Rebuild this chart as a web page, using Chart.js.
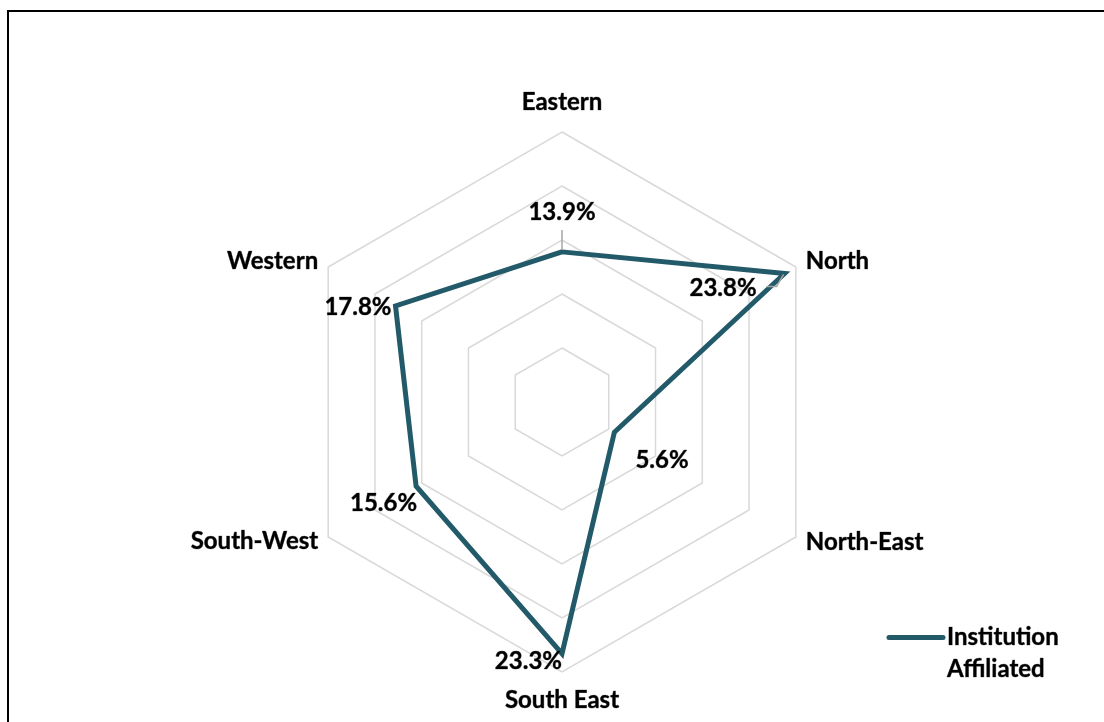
<!DOCTYPE html>
<html><head><meta charset="utf-8">
<script src="https://cdn.jsdelivr.net/npm/chart.js@4.4.0/dist/chart.umd.min.js"></script>
<style>
html,body{margin:0;padding:0;background:#fff;overflow:hidden}
#wrap{position:relative;width:1104px;height:722px;overflow:hidden}
#frame{position:absolute;left:7px;top:10px;width:1200px;height:800px;border-left:2px solid #000;border-top:2px solid #000;pointer-events:none}
canvas{display:block}
</style></head><body>
<div id="wrap"><canvas id="c" width="1104" height="722"></canvas><div id="frame"></div></div>
<script>
// ---- data ----
const categories = ['Eastern', 'North', 'North-East', 'South East', 'South-West', 'Western'];
const values = [13.9, 23.8, 5.6, 23.3, 15.6, 17.8];
const valueLabels = ['13.9%', '23.8%', '5.6%', '23.3%', '15.6%', '17.8%'];
const seriesLabel = ['Institution', 'Affiliated'];
const scaleMin = 0, scaleMax = 25, scaleStep = 5;

// ---- styles / layout ----
const LINE = '#235a69';
const FONT = 'bold 24px Lato, "Open Sans", sans-serif';
// offsets of value labels from their point: [dx, dy, align]
const valueLabelPos = [[0, -40, 'center'], [-28, 15, 'right'], [21, 28, 'left'], [0, 8, 'right'], [1, 17, 'right'], [-4, 1, 'right']];
// offsets of category labels from outer vertex
const catLabelPos = [[0, -30, 'center'], [10, -6, 'left'], [10, 5, 'left'], [0, 28, 'center'], [-10, 4, 'right'], [-10, -6, 'right']];

function drawText(ctx, t, x, y) {
  ctx.strokeText(t, x, y);
  ctx.fillText(t, x, y);
}

const labelsPlugin = {
  id: 'labelsPlugin',
  afterDatasetsDraw(chart) {
    const ctx = chart.ctx;
    const scale = chart.scales.r;
    const meta = chart.getDatasetMeta(0);
    ctx.save();
    // leader lines
    ctx.strokeStyle = '#a6a6a6';
    ctx.lineWidth = 1.5;
    const p0 = meta.data[0];
    ctx.beginPath(); ctx.moveTo(p0.x, p0.y - 22); ctx.lineTo(p0.x, p0.y - 2); ctx.stroke();
    const p1 = meta.data[1];
    ctx.beginPath(); ctx.moveTo(p1.x - 18, p1.y + 13); ctx.lineTo(p1.x - 8, p1.y + 13); ctx.lineTo(p1.x - 1, p1.y + 1); ctx.stroke();

    ctx.font = FONT;
    ctx.fillStyle = '#000';
    ctx.strokeStyle = 'rgba(0,0,0,0.55)';
    ctx.lineWidth = 0.7;
    ctx.lineJoin = 'round';
    ctx.textBaseline = 'middle';
    // value labels
    meta.data.forEach((pt, i) => {
      const [dx, dy, al] = valueLabelPos[i];
      ctx.textAlign = al;
      drawText(ctx, valueLabels[i], pt.x + dx, pt.y + dy);
    });
    // category labels
    categories.forEach((c, i) => {
      const v = scale.getPointPosition(i, scale.drawingArea);
      const [dx, dy, al] = catLabelPos[i];
      ctx.textAlign = al;
      drawText(ctx, c, v.x + dx, v.y + dy);
    });
    // legend
    ctx.save();
    ctx.strokeStyle = LINE;
    ctx.lineWidth = 5;
    ctx.lineCap = 'round';
    ctx.beginPath(); ctx.moveTo(889, 637.5); ctx.lineTo(943, 637.5); ctx.stroke();
    ctx.restore();
    ctx.textAlign = 'left';
    drawText(ctx, seriesLabel[0], 947, 637);
    drawText(ctx, seriesLabel[1], 947, 669);
    ctx.restore();
  }
};

new Chart(document.getElementById('c'), {
  type: 'radar',
  data: {
    labels: categories,
    datasets: [{
      label: seriesLabel.join(' '),
      data: values,
      borderColor: LINE,
      borderWidth: 5,
      backgroundColor: 'transparent',
      fill: false,
      pointRadius: 0,
      pointHoverRadius: 0,
      tension: 0,
      borderJoinStyle: 'miter'
    }]
  },
  options: {
    responsive: false,
    animation: false,
    layout: { padding: { top: 132, bottom: 50, left: 212, right: 192 } },
    plugins: { legend: { display: false }, tooltip: { enabled: false } },
    scales: {
      r: {
        min: scaleMin, max: scaleMax,
        ticks: { stepSize: scaleStep, display: false },
        grid: { color: '#d9d9d9', lineWidth: 1.5 },
        angleLines: { display: false },
        pointLabels: { display: false }
      }
    }
  },
  plugins: [labelsPlugin]
});
</script>
</body></html>
